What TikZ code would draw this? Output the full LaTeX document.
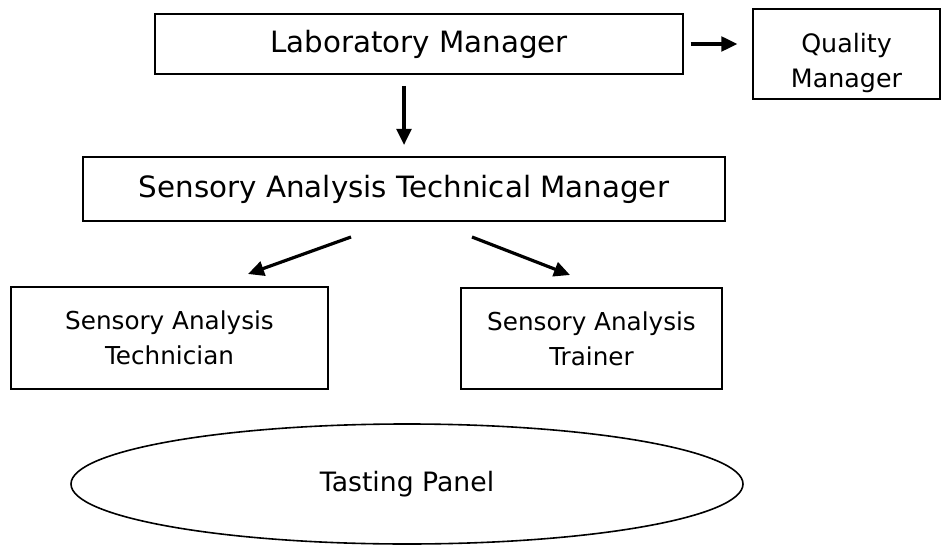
\documentclass[tikz,border=0pt]{standalone}
\usepackage{fontspec}
\setmainfont{DejaVu Sans}
\usetikzlibrary{shapes.geometric,arrows.meta,calc}

\tikzset{
  x=0.75pt, y=-0.75pt,
  box/.style={draw, line width=1.5pt, inner sep=0pt, align=center},
  link/.style={line width=2.4pt, -{Triangle[length=12pt,width=11pt]}},
}

\begin{document}
\begin{tikzpicture}
\useasboundingbox (0,0) rectangle (941,545);

\node[box, minimum width=396pt, minimum height=45pt,
  font=\fontsize{22}{26}\selectfont] (lab) at (419,44) {Laboratory Manager};
\node[box, minimum width=140.25pt, minimum height=67.5pt] (quality) at (846.5,54) {};
\node[align=center, font=\fontsize{19}{26}\selectfont] (qualitytext) at ($(quality.center)+(0,9)$) {Quality\\Manager};
\node[box, minimum width=481.5pt, minimum height=48pt,
  font=\fontsize{22}{26}\selectfont] (stm) at (404,189) {Sensory Analysis Technical Manager};
\node[box, minimum width=237.75pt, minimum height=76.5pt,
  font=\fontsize{18.5}{26}\selectfont] (tech) at (169.5,338) {Sensory Analysis\\Technician};
\node[box, minimum width=195.75pt, minimum height=75.75pt,
  font=\fontsize{18.5}{26}\selectfont] (trainer) at (591.5,338.5) {Sensory Analysis\\Trainer};
\node[draw, ellipse, line width=1.2pt, inner sep=0pt, minimum width=504pt, minimum height=90pt,
  font=\fontsize{20}{24}\selectfont] (panel) at (407,484) {Tasting Panel};

% connectors
\draw[link, shorten <=5pt, shorten >=11pt] (lab.east) -- (lab.east -| quality.west);
\draw[link] ($(lab.south)+(-15,11)$) -- ($(stm.north)+(0,-11)$);
\draw[link] ($(stm.south)+(-53,15)$) -- ($(tech.north)+(78.5,-12)$);
\draw[link] ($(stm.south)+(68,15)$) -- ($(trainer.north)+(-21.5,-12)$);

\end{tikzpicture}
\end{document}
